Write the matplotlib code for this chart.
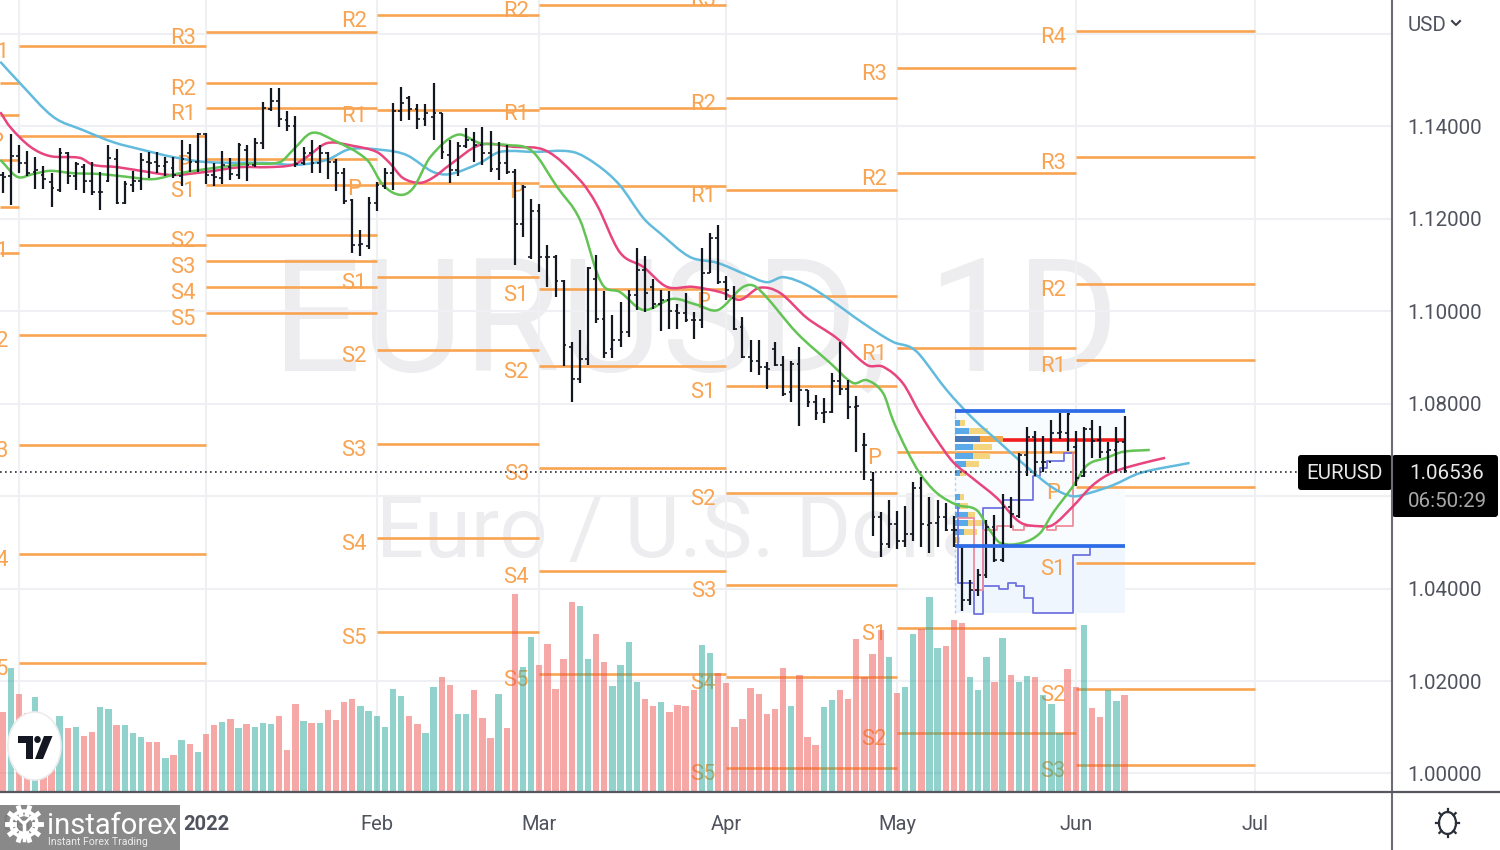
import numpy as np
import matplotlib
matplotlib.use("Agg")
import matplotlib.pyplot as plt
from matplotlib.patches import Ellipse, FancyBboxPatch, PathPatch, Polygon, Rectangle
from matplotlib.path import Path

plt.rcParams['font.family'] = ['Roboto', 'DejaVu Sans']

# daily bars, first one is 25 sessions before Jan 3 2022
highs = [1.1302, 1.1384, 1.1361, 1.1348, 1.1333, 1.1315, 1.1299, 1.1354, 1.1345, 1.1324,
         1.1319, 1.1324, 1.1302, 1.1360, 1.1351, 1.1281, 1.1304, 1.1342, 1.1344, 1.1344,
         1.1335, 1.1333, 1.1371, 1.1362, 1.1385, 1.1385, 1.1320, 1.1348, 1.1331, 1.1365,
         1.1361, 1.1375, 1.1452, 1.1483, 1.1483, 1.1434, 1.1423, 1.1355, 1.1371, 1.1360,
         1.1344, 1.1329, 1.1310, 1.1243, 1.1175, 1.1248, 1.1279, 1.1310, 1.1450, 1.1486,
         1.1465, 1.1449, 1.1449, 1.1495, 1.1430, 1.1371, 1.1367, 1.1396, 1.1387, 1.1399,
         1.1391, 1.1367, 1.1360, 1.1309, 1.1273, 1.1244, 1.1232, 1.1143, 1.1122, 1.1067,
         1.0934, 1.0959, 1.1096, 1.1122, 1.1045, 1.0992, 1.1021, 1.1046, 1.1138, 1.1120,
         1.1070, 1.1047, 1.1045, 1.1016, 1.1040, 1.0999, 1.1138, 1.1170, 1.1186, 1.1077,
         1.1055, 1.0988, 1.0938, 1.0938, 1.0891, 1.0934, 1.0903, 1.0893, 1.0923, 1.0830,
         1.0819, 1.0812, 1.0866, 1.0934, 1.0851, 1.0816, 1.0736, 1.0653, 1.0565, 1.0592,
         1.0567, 1.0578, 1.0630, 1.0641, 1.0598, 1.0592, 1.0585, 1.0557, 1.0495, 1.0419,
         1.0443, 1.0549, 1.0560, 1.0605, 1.0598, 1.0693, 1.0749, 1.0740, 1.0731, 1.0765,
         1.0780, 1.0780, 1.0740, 1.0749, 1.0765, 1.0751, 1.0718, 1.0749, 1.0774]
lows = [1.1256, 1.1230, 1.1300, 1.1293, 1.1264, 1.1264, 1.1225, 1.1259, 1.1275, 1.1263,
        1.1257, 1.1252, 1.1220, 1.1279, 1.1232, 1.1232, 1.1259, 1.1263, 1.1288, 1.1300,
        1.1292, 1.1288, 1.1272, 1.1302, 1.1302, 1.1276, 1.1272, 1.1276, 1.1284, 1.1286,
        1.1283, 1.1312, 1.1351, 1.1434, 1.1398, 1.1391, 1.1313, 1.1317, 1.1300, 1.1299,
        1.1286, 1.1261, 1.1232, 1.1127, 1.1119, 1.1135, 1.1218, 1.1264, 1.1263, 1.1412,
        1.1414, 1.1395, 1.1402, 1.1371, 1.1329, 1.1277, 1.1293, 1.1353, 1.1324, 1.1316,
        1.1302, 1.1284, 1.1298, 1.1100, 1.1161, 1.1114, 1.1086, 1.1053, 1.1031, 1.0882,
        1.0804, 1.0844, 1.0884, 1.0974, 1.0898, 1.0898, 1.0923, 1.0944, 1.1003, 1.0999,
        1.1006, 1.0957, 1.0961, 1.0962, 1.0977, 1.0941, 1.0963, 1.1083, 1.1060, 1.1024,
        1.0959, 1.0898, 1.0869, 1.0862, 1.0833, 1.0882, 1.0817, 1.0804, 1.0752, 1.0792,
        1.0765, 1.0758, 1.0779, 1.0819, 1.0766, 1.0695, 1.0634, 1.0513, 1.0468, 1.0488,
        1.0485, 1.0490, 1.0502, 1.0490, 1.0478, 1.0491, 1.0524, 1.0491, 1.0351, 1.0365,
        1.0384, 1.0423, 1.0457, 1.0457, 1.0531, 1.0552, 1.0643, 1.0643, 1.0653, 1.0693,
        1.0723, 1.0697, 1.0621, 1.0641, 1.0682, 1.0682, 1.0650, 1.0650, 1.0651]
opens = [1.1295, 1.1292, 1.1336, 1.1320, 1.1302, 1.1295, 1.1279, 1.1263, 1.1342, 1.1292,
         1.1313, 1.1281, 1.1259, 1.1281, 1.1330, 1.1234, 1.1274, 1.1283, 1.1324, 1.1324,
         1.1315, 1.1310, 1.1292, 1.1342, 1.1324, 1.1384, 1.1295, 1.1288, 1.1313, 1.1295,
         1.1349, 1.1317, 1.1364, 1.1437, 1.1456, 1.1414, 1.1402, 1.1320, 1.1342, 1.1320,
         1.1342, 1.1324, 1.1299, 1.1241, 1.1144, 1.1142, 1.1234, 1.1272, 1.1299, 1.1434,
         1.1461, 1.1437, 1.1416, 1.1421, 1.1429, 1.1338, 1.1305, 1.1358, 1.1371, 1.1360,
         1.1342, 1.1307, 1.1322, 1.1302, 1.1189, 1.1118, 1.1217, 1.1118, 1.1118, 1.1065,
         1.0923, 1.0853, 1.0896, 1.1071, 1.0983, 1.0918, 1.0939, 1.0956, 1.1035, 1.1089,
         1.1053, 1.1016, 1.1024, 1.1000, 1.0997, 1.0981, 1.0981, 1.1083, 1.1158, 1.1064,
         1.1028, 1.0967, 1.0902, 1.0893, 1.0879, 1.0918, 1.0884, 1.0826, 1.0887, 1.0830,
         1.0804, 1.0781, 1.0783, 1.0850, 1.0831, 1.0794, 1.0711, 1.0635, 1.0556, 1.0497,
         1.0539, 1.0502, 1.0518, 1.0617, 1.0538, 1.0542, 1.0555, 1.0526, 1.0491, 1.0376,
         1.0397, 1.0430, 1.0534, 1.0461, 1.0576, 1.0558, 1.0689, 1.0729, 1.0675, 1.0675,
         1.0736, 1.0736, 1.0707, 1.0644, 1.0745, 1.0722, 1.0695, 1.0699, 1.0718]
closes = [1.1290, 1.1336, 1.1320, 1.1300, 1.1305, 1.1286, 1.1266, 1.1342, 1.1292, 1.1319,
          1.1283, 1.1259, 1.1258, 1.1331, 1.1234, 1.1276, 1.1283, 1.1328, 1.1320, 1.1315,
          1.1324, 1.1295, 1.1329, 1.1324, 1.1384, 1.1295, 1.1290, 1.1317, 1.1297, 1.1360,
          1.1317, 1.1365, 1.1441, 1.1456, 1.1416, 1.1402, 1.1319, 1.1342, 1.1320, 1.1342,
          1.1324, 1.1300, 1.1238, 1.1144, 1.1146, 1.1234, 1.1274, 1.1300, 1.1434, 1.1450,
          1.1437, 1.1416, 1.1429, 1.1429, 1.1344, 1.1305, 1.1358, 1.1371, 1.1360, 1.1342,
          1.1307, 1.1322, 1.1302, 1.1189, 1.1268, 1.1217, 1.1118, 1.1118, 1.1065, 1.0927,
          1.0853, 1.0896, 1.1093, 1.0983, 1.0909, 1.0939, 1.0956, 1.1035, 1.1089, 1.1039,
          1.1016, 1.1024, 1.1000, 1.0997, 1.0981, 1.0981, 1.1083, 1.1158, 1.1064, 1.1046,
          1.0962, 1.0902, 1.0893, 1.0879, 1.0876, 1.0884, 1.0822, 1.0887, 1.0830, 1.0804,
          1.0781, 1.0783, 1.0850, 1.0831, 1.0794, 1.0795, 1.0711, 1.0556, 1.0497, 1.0539,
          1.0502, 1.0518, 1.0617, 1.0539, 1.0542, 1.0555, 1.0526, 1.0527, 1.0376, 1.0397,
          1.0430, 1.0534, 1.0461, 1.0576, 1.0562, 1.0689, 1.0729, 1.0675, 1.0675, 1.0736,
          1.0738, 1.0778, 1.0639, 1.0745, 1.0720, 1.0695, 1.0699, 1.0718, 1.0654]

volumes = [80, 124, 98, 79, 95, 72, 69, 76, 64, 65, 56, 60, 85, 83, 67, 67, 59, 55, 50, 50,
           34, 37, 52, 48, 40, 58, 67, 70, 73, 64, 68, 65, 69, 68, 76, 42, 88, 71, 69, 69,
           82, 72, 90, 93, 86, 81, 76, 65, 103, 96, 76, 68, 59, 105, 115, 107, 78, 78, 102, 74,
           54, 98, 64, 198, 125, 155, 127, 148, 103,
           133, 190, 186, 133, 158, 130, 106, 127, 150, 110, 93, 86, 90, 80, 87, 86, 102, 147, 139, 119,
           109, 65, 73, 104, 98, 78, 83, 124, 86, 117, 55, 47, 85, 92, 102, 93, 153, 115, 138, 162,
           135, 99, 105, 158, 163, 195, 144, 146, 172, 169, 115, 102, 135, 110, 154, 117, 110, 116, 115, 97,
           88, 59, 123, 105, 167, 84, 75, 102, 91, 97]
vol_dirs = ("pgppgppgpgppggpgggppgpgpgppgpgpgggpppgpgppppggggggppggppggpppgppggppp"
            "ppggppggggppgppppggpppppppppgpppggppppppgpggpggpppgggpgpggpgggppgppggp")

# moving averages
blue_x = [-25.3, -23.0, -18.8, -15.1, -11.4, -7.7, -4.1, 0.1, 7.5, 11.2, 14.9, 17.7, 21.8, 24.7, 27.9, 30.0,
          33.7, 35.8, 37.4, 40.2, 45.1, 48.1, 50.9, 53.8, 55.8, 59.5, 62.9, 66.5, 69.0, 71.0, 73.9, 76.8,
          80.8, 84.5, 86.6, 87.8, 91.1, 94.3, 97.7, 101.0, 104.2, 106.6, 108.7, 111.6, 114.9, 121.0]
blue_y = [1.1540, 1.1496, 1.1421, 1.1392, 1.1366, 1.1349, 1.1334, 1.1323, 1.1321, 1.1317, 1.1328, 1.1351,
          1.1349, 1.1338, 1.1302, 1.1297, 1.1321, 1.1343, 1.1347, 1.1345, 1.1345, 1.1317, 1.1273, 1.1202,
          1.1170, 1.1118, 1.1105, 1.1079, 1.1063, 1.1074, 1.1057, 1.1025, 1.0975, 1.0934, 1.0923, 1.0906,
          1.0830, 1.0769, 1.0715, 1.0663, 1.0618, 1.0600, 1.0607, 1.0624, 1.0650, 1.0672]
pink_x = [-25.3, -24.1, -21.6, -19.2, -15.5, -13.9, -10.9, -7.3, -4.1, 0.1, 4.2, 7.5, 10.7, 12.4, 14.9, 18.1,
          21.0, 22.6, 24.2, 26.3, 27.9, 30.0, 33.7, 37.8, 41.9, 46.0, 48.1, 50.9, 53.8, 56.7, 59.9, 63.6,
          65.7, 68.1, 70.6, 73.9, 77.6, 81.3, 83.3, 85.7, 87.8, 89.9, 91.9, 94.3, 97.3, 100.1, 102.6, 104.2,
          106.6, 109.1, 111.6, 114.9, 118.0]
pink_y = [1.1431, 1.1399, 1.1356, 1.1336, 1.1332, 1.1317, 1.1312, 1.1302, 1.1295, 1.1302, 1.1312, 1.1312,
          1.1317, 1.1334, 1.1364, 1.1358, 1.1345, 1.1321, 1.1289, 1.1278, 1.1289, 1.1317, 1.1360, 1.1356,
          1.1347, 1.1284, 1.1230, 1.1128, 1.1096, 1.1053, 1.1053, 1.1040, 1.1025, 1.1051, 1.1040, 1.0986,
          1.0942, 1.0884, 1.0880, 1.0845, 1.0780, 1.0722, 1.0674, 1.0639, 1.0596, 1.0544, 1.0535, 1.0538,
          1.0577, 1.0624, 1.0652, 1.0670, 1.0683]
green_x = [-25.3, -23.2, -21.3, -19.2, -16.4, -13.0, -9.7, -6.5, -3.2, 0.9, 5.0, 9.1, 10.7, 13.0, 15.6, 19.8,
           21.8, 23.9, 25.5, 27.6, 30.9, 33.7, 37.0, 40.1, 43.2, 46.0, 48.1, 49.1, 50.9, 53.8, 57.4, 60.4,
           63.0, 66.1, 67.8, 72.7, 76.8, 79.6, 81.3, 83.3, 84.5, 86.2, 87.8, 89.9, 92.4, 94.8, 96.4, 97.7,
           100.4, 102.6, 104.2, 106.6, 108.4, 110.8, 112.8, 116.1]
green_y = [1.1328, 1.1291, 1.1297, 1.1304, 1.1299, 1.1297, 1.1291, 1.1286, 1.1299, 1.1310, 1.1319, 1.1323,
           1.1349, 1.1386, 1.1371, 1.1328, 1.1273, 1.1252, 1.1267, 1.1334, 1.1382, 1.1364, 1.1360, 1.1347,
           1.1269, 1.1198, 1.1083, 1.1051, 1.1042, 1.1003, 1.1027, 1.1014, 1.1003, 1.1053, 1.1051, 1.0953,
           1.0888, 1.0845, 1.0851, 1.0823, 1.0765, 1.0700, 1.0650, 1.0607, 1.0581, 1.0570, 1.0527, 1.0499,
           1.0499, 1.0520, 1.0564, 1.0620, 1.0667, 1.0683, 1.0696, 1.0700]

# month starts, in sessions from Jan 3
month_pos = [-23, 0, 21, 41, 64, 85, 107, 129]
month_labels = ['Dec', '2022', 'Feb', 'Mar', 'Apr', 'May', 'Jun', 'Jul']
price_ticks = [1.00, 1.02, 1.04, 1.06, 1.08, 1.10, 1.12, 1.14, 1.16]

# monthly pivot levels, each list runs from one month start to the next
pivot_nov = [1.1494, 1.1425, 1.1328, 1.1226, 1.1126]
pivot_dec_names = ['R1', 'P', 'S1', 'S2', 'S3', 'S4', 'S5']
pivot_dec = [1.1574, 1.1379, 1.1144, 1.0949, 1.0711, 1.0475, 1.0239]
pivot_jan_names = ['R3', 'R2', 'R1', 'P', 'S1', 'S2', 'S3', 'S4', 'S5']
pivot_jan = [1.1605, 1.1494, 1.1440, 1.1330, 1.1273, 1.1165, 1.1109, 1.1053, 1.0996]
pivot_feb_names = ['R2', 'R1', 'P', 'S1', 'S2', 'S3', 'S4', 'S5']
pivot_feb = [1.1641, 1.1436, 1.1278, 1.1074, 1.0916, 1.0713, 1.0510, 1.0306]
pivot_mar_names = ['R2', 'R1', 'P', 'S1', 'S2', 'S3', 'S4', 'S5']
pivot_mar = [1.1663, 1.1440, 1.1271, 1.1048, 1.0882, 1.0661, 1.0438, 1.0215]
pivot_apr_names = ['R3', 'R2', 'R1', 'P', 'S1', 'S2', 'S3', 'S4', 'S5']
pivot_apr = [1.1687, 1.1462, 1.1263, 1.1033, 1.0838, 1.0607, 1.0408, 1.0209, 1.0012]
pivot_may_names = ['R3', 'R2', 'R1', 'P', 'S1', 'S2']
pivot_may = [1.1527, 1.1299, 1.0921, 1.0696, 1.0315, 1.0088]
pivot_jun_names = ['R4', 'R3', 'R2', 'R1', 'P', 'S1', 'S2', 'S3']
pivot_jun = [1.1607, 1.1334, 1.1059, 1.0895, 1.0620, 1.0455, 1.0183, 1.0018]

# fixed range volume profile
vp_start = 92.1
vp_end = 113.0
vp_top = 1.0784
vp_low = 1.0492
vp_poc = 1.0722
vp_bottom = 1.0347
vp_prices = [1.0780, 1.0758, 1.0741, 1.0724, 1.0706, 1.0687, 1.0670, 1.0650,
             1.0598, 1.0579, 1.0559, 1.0542, 1.0523, 1.0505]
vp_buy = [0.1, 0.6, 1.8, 3.1, 2.3, 2.3, 1.4, 0.7, 0.6, 0.6, 1.6, 1.6, 1.2, 0.2]
vp_sell = [0.1, 0.7, 2.3, 2.8, 2.3, 2.1, 1.6, 0.7, 0.6, 1.1, 0.9, 1.8, 1.6, 0.5]

# step lines inside the profile box
step1_x = [92.5, 92.5, 94.5, 95.6, 98.1, 101.7, 102.6, 103.5, 105.5, 106.6]
step1_y = [1.0581, 1.0413, 1.0345, 1.0574, 1.0592, 1.0644, 1.0661, 1.0677, 1.0694, 1.0694]
step2_x = [95.6, 97.6, 98.7, 99.7, 100.6, 101.7, 106.6, 108.7, 108.7]
step2_y = [1.0405, 1.0399, 1.0412, 1.0405, 1.0379, 1.0347, 1.0473, 1.0491, 1.0491]
step3_x = [92.5, 94.5, 95.6, 97.3, 99.3, 100.6, 103.5, 104.6, 106.6, 106.6]
step3_y = [1.0552, 1.0397, 1.0527, 1.0536, 1.0527, 1.0536, 1.0527, 1.0536, 1.0694, 1.0694]

last_price = 1.0653

ORANGE = '#f8a452'
TEXT = '#50535e'


def smooth_line(axis, xs, ys, color):
    # bezier through the read points so the averages do not look like polylines
    xs = np.array(xs)
    ys = np.array(ys)
    verts = [(xs[0], ys[0])]
    codes = [Path.MOVETO]
    for i in range(len(xs) - 1):
        a = max(i - 1, 0)
        b = min(i + 2, len(xs) - 1)
        span = xs[i + 1] - xs[i]
        sx0 = (ys[i + 1] - ys[a]) / (xs[i + 1] - xs[a])
        sx1 = (ys[b] - ys[i]) / (xs[b] - xs[i])
        verts.append((xs[i] + span / 3, ys[i] + sx0 * span / 3))
        verts.append((xs[i + 1] - span / 3, ys[i + 1] - sx1 * span / 3))
        verts.append((xs[i + 1], ys[i + 1]))
        codes += [Path.CURVE4] * 3
    axis.add_patch(PathPatch(Path(verts, codes), fc='none', ec=color, lw=1.8, zorder=4))


fig = plt.figure(figsize=(15, 8.5), dpi=100)
ax = fig.add_axes([0, 58 / 850, 1392 / 1500, 792 / 850], zorder=1)
ax_vol = ax.twinx()
ax_top = ax.twinx()
ax_vol.set_zorder(2)
ax_top.set_zorder(3)
ax.yaxis.tick_right()

xlim = (-25.34, 145.9)
ylim = (0.99599, 1.16737)
ax.set_xlim(xlim)
ax.set_ylim(ylim)
ax_top.set_ylim(ylim)
ax_vol.set_ylim(0, 792)
ax_vol.set_axis_off()
ax_top.set_axis_off()

for s in ax.spines.values():
    s.set_visible(False)
ax.set_axisbelow(True)
ax.grid(True, color='#eff0f3', lw=1.5)
ax.set_xticks(month_pos)
ax.set_xticklabels(month_labels)
ax.set_yticks(price_ticks)
ax.set_yticklabels(['%.5f' % p if p < 1.15 else '' for p in price_ticks])
ax.tick_params(axis='x', length=0, pad=16.5, labelsize=14.5, labelcolor=TEXT)
ax.tick_params(axis='y', length=0, pad=11, labelsize=14.8, labelcolor=TEXT)
ax.get_xticklabels()[1].set_fontweight('bold')

# watermark
ax.text(695 / 1500, 1 - 328 / 850, 'EURUSD, 1D', transform=fig.transFigure, fontsize=113, color='#ededef',
        ha='center', va='center', zorder=0.5)
ax.text(696 / 1500, 1 - 533 / 850, 'Euro / U.S. Dollar', transform=fig.transFigure, fontsize=61, color='#ededef',
        ha='center', va='center', zorder=0.5)

# profile background
ax.fill_between([vp_start, vp_end], vp_low, vp_top, color='#f9fcfe', lw=0, zorder=0.6)
ax.fill_between([vp_start, vp_end], vp_bottom, vp_low, color='#f0f6fd', lw=0, zorder=0.6)

# pivots
ax.hlines(pivot_nov, xlim[0], month_pos[0], color=ORANGE, lw=1.9, zorder=2)
pivot_sets = [(pivot_dec_names, pivot_dec), (pivot_jan_names, pivot_jan), (pivot_feb_names, pivot_feb),
              (pivot_mar_names, pivot_mar), (pivot_apr_names, pivot_apr), (pivot_may_names, pivot_may),
              (pivot_jun_names, pivot_jun)]
for i, (names, levels) in enumerate(pivot_sets):
    ax.hlines(levels, month_pos[i], month_pos[i + 1], color=ORANGE, lw=1.9, zorder=2)
    for name, level in zip(names, levels):
        ax.annotate(name, (month_pos[i], level), xytext=(-16.5, -4.6), textcoords='offset points',
                    color=ORANGE, fontsize=15.8, ha='center', va='center', annotation_clip=False,
                    clip_on=True, zorder=2)

# volume
vol_x = np.arange(len(volumes)) - 25
vol_colors = ['#26a69a' if d == 'g' else '#ef5350' for d in vol_dirs]
ax_vol.bar(vol_x, volumes, width=0.78, color=vol_colors, alpha=0.5, lw=0)

# volume profile
vp_colors_buy = ['#5aa9e8'] * len(vp_prices)
vp_colors_sell = ['#f5d47e'] * len(vp_prices)
vp_colors_buy[3] = '#4a79b8'
vp_colors_sell[3] = '#f5a649'
ax_top.hlines(vp_poc, vp_start, vp_end, color='#f21c1c', lw=2.6, zorder=2)
ax_top.barh(vp_prices, vp_buy, left=vp_start, height=0.0014, color=vp_colors_buy, lw=0, zorder=3)
ax_top.barh(vp_prices, vp_sell, left=vp_start + np.array(vp_buy), height=0.0014, color=vp_colors_sell, lw=0, zorder=3)
ax_top.vlines(vp_start, vp_bottom, vp_top, color='#a9d3f3', lw=1, linestyles=(0, (2, 2)), zorder=2)
ax_top.hlines([vp_top, vp_low], vp_start, vp_end, color='#2e6be6', lw=2.7, zorder=6)
ax_top.step(step1_x, step1_y, where='post', color='#6f74e0', lw=1.3, zorder=3)
ax_top.step(step2_x, step2_y, where='post', color='#6f74e0', lw=1.3, zorder=3)
ax_top.step(step3_x, step3_y, where='post', color='#ee8c9c', lw=1.3, zorder=3)

# moving averages
smooth_line(ax_top, blue_x, blue_y, '#62bbdc')
smooth_line(ax_top, pink_x, pink_y, '#e8447e')
smooth_line(ax_top, green_x, green_y, '#63c455')

# ohlc bars
bar_x = np.arange(len(highs)) - 25
ax_top.vlines(bar_x, lows, highs, color='#131722', lw=1.6, zorder=5)
ax_top.hlines(opens, bar_x - 0.34, bar_x, color='#131722', lw=1.2, zorder=5)
ax_top.hlines(closes, bar_x, bar_x + 0.34, color='#131722', lw=1.2, zorder=5)

ax_top.hlines(last_price, xlim[0], 134.6, color='#2a2e39', lw=1.2, linestyles=(0, (1, 2)), zorder=6)

# overlay in picture pixels for the logos, boxes and axis lines
over = fig.add_axes([0, 0, 1, 1], zorder=5)
over.set_xlim(0, 1500)
over.set_ylim(850, 0)
over.set_axis_off()

over.add_patch(FancyBboxPatch((1301, 458), 88, 29, boxstyle='round,pad=3', fc='black', ec='none'))
over.add_patch(FancyBboxPatch((1395, 458), 100, 56, boxstyle='round,pad=3', fc='black', ec='none'))
over.text(1344, 473, 'EURUSD', color='#e8e8e8', fontsize=14.8, ha='center', va='center')
over.text(1447, 473, '1.06536', color='#e8e8e8', fontsize=14.8, ha='center', va='center')
over.text(1447, 501, '06:50:29', color='#a8a8a8', fontsize=14.8, ha='center', va='center')

over.plot([1392, 1392], [0, 850], color='#6a6d75', lw=1.5)
over.plot([0, 1500], [792, 792], color='#55585f', lw=1.6)

over.text(1408, 25, 'USD', color=TEXT, fontsize=14.8, ha='left', va='center')
over.plot([1452, 1456, 1460], [21, 25, 21], color='#3a3d45', lw=1.5)

# settings icon
over.add_patch(Ellipse((1447.5, 823), 17, 22, fc='none', ec='#2a2e39', lw=1.6))
for a in np.arange(0, 2 * np.pi, np.pi / 4):
    over.plot([1447.5 + 8.5 * np.cos(a), 1447.5 + 11.5 * np.cos(a)],
              [823 + 11 * np.sin(a), 823 + 14 * np.sin(a)], color='#2a2e39', lw=1.6)

# tradingview badge
over.add_patch(Ellipse((34.5, 746), 53, 68, fc='white', ec='#ececee', lw=1.2))
over.add_patch(Polygon([(17.5, 736), (33, 736), (33, 759), (26, 759), (26, 743), (17.5, 743)], fc='#131722'))
over.add_patch(Ellipse((37.5, 739.5), 6.5, 7, fc='#131722'))
over.add_patch(Polygon([(44, 736), (52.5, 736), (43, 759), (35, 759)], fc='#131722'))

# instaforex box
over.add_patch(Rectangle((0, 805), 180, 45, fc='#808080', ec='none', alpha=0.93))
for a in np.arange(0, 2 * np.pi, np.pi / 5):
    over.plot([24 + 10 * np.cos(a), 24 + 17 * np.cos(a)], [824 + 10 * np.sin(a), 824 + 17 * np.sin(a)],
              color='white', lw=3.5)
over.add_patch(Ellipse((24, 824), 26, 26, fc='none', ec='white', lw=2.5))
over.plot([24, 24], [822, 840], color='white', lw=2.5)
over.plot([17, 24, 31], [817, 824, 817], color='white', lw=2)
over.text(47, 834, 'instaforex', color='white', fontsize=21, ha='left', va='baseline')
over.text(48, 845, 'Instant Forex Trading', color='#ececec', fontsize=7.6, ha='left', va='baseline')

fig.savefig('out.png', dpi=100)
